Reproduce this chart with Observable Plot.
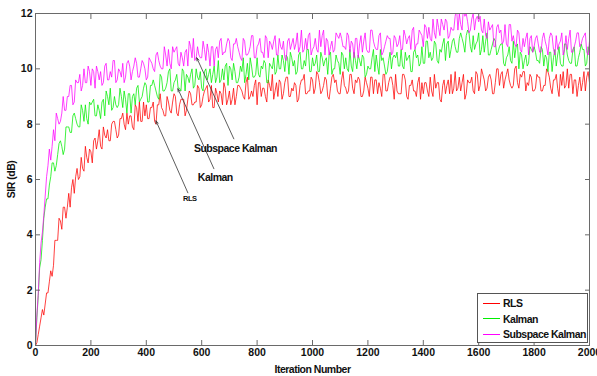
<!DOCTYPE html>
<html><head><meta charset="utf-8">
<script src="https://cdn.jsdelivr.net/npm/d3@7"></script>
<script src="https://cdn.jsdelivr.net/npm/@observablehq/plot@0.6"></script>
<style>
body{margin:0;background:#fff;}
#wrap{position:relative;width:597px;height:376px;font-family:"Liberation Sans",Arial,sans-serif;overflow:hidden;}
.legend{position:absolute;left:477px;top:293px;width:109px;height:48px;border:1px solid #555;background:#fff;font-weight:bold;font-size:10.5px;letter-spacing:-0.5px;color:#111;}
.row{position:absolute;left:5px;height:14px;line-height:14px;display:flex;align-items:center;white-space:nowrap;}
.row i{display:inline-block;width:17px;height:0;border-top:1px solid;margin-right:3px;}
g[aria-label="text"] text, g[aria-label="x-axis label"] text, g[aria-label="y-axis label"] text{letter-spacing:-0.5px;}
</style></head><body><div id="wrap"></div>
<script>
// samples at iterations 0,10,20,...,2000 (…Even) and 5,15,...,1995 (…Mid)
const rlsEven = [
0,0.4,1.0,1.1,1.9,2.3,2.5,3.8,3.8,4.5,
5.0,4.6,5.5,5.7,5.5,6.4,6.1,6.4,7.2,6.6,
7.0,7.4,7.1,7.8,7.1,7.6,7.8,7.4,8.1,7.8,
7.6,8.2,8.0,8.4,8.3,7.9,8.7,8.1,8.1,8.8,
8.7,8.2,8.6,8.1,8.7,9.1,8.5,8.3,8.8,8.4,
9.1,8.4,8.7,8.9,8.3,8.9,9.1,8.7,8.8,9.3,
8.7,9.2,9.4,8.9,8.6,9.3,8.8,9.1,9.5,8.7,
9.2,8.9,8.7,9.4,9.3,9.0,9.5,8.9,9.2,9.4,
8.7,9.5,9.3,9.0,9.6,9.2,8.9,9.5,9.6,8.9,
9.5,9.7,9.0,9.2,9.4,8.9,9.6,9.8,9.1,9.2,
9.6,9.3,9.8,9.1,9.4,9.6,8.9,9.7,9.5,9.2,
9.1,9.9,9.3,9.2,9.8,9.1,9.5,9.6,9.0,9.7,
9.3,9.7,9.1,9.6,9.5,9.0,9.8,9.2,9.7,9.4,
9.8,9.1,9.1,9.8,9.0,9.4,9.6,9.2,9.5,8.9,
9.1,9.5,9.0,9.2,9.8,9.5,8.9,9.4,9.1,9.6,
9.8,9.3,9.2,9.7,9.5,8.9,9.6,9.5,9.2,9.9,
9.2,10.0,9.6,9.3,9.8,9.1,9.5,10.0,9.8,9.3,
9.8,9.6,9.3,10.0,9.5,9.8,9.9,9.2,9.4,9.7,
9.2,9.8,9.7,9.2,9.4,9.9,9.3,9.6,9.8,9.0,
9.4,9.3,10.0,9.8,9.1,9.6,9.4,9.2,9.9,9.7,
9.5];
const rlsMid = [
0.1,0.7,1.3,1.5,1.9,2.7,2.9,3.8,4.6,4.2,
5.0,5.0,5.0,6.0,6.1,6.0,6.8,6.3,6.8,7.1,
6.6,7.5,7.4,7.2,7.9,7.5,7.4,8.0,8.1,7.5,
8.2,8.4,7.8,8.0,8.3,7.8,8.6,8.8,8.1,8.3,
8.2,8.6,8.8,8.0,8.7,8.6,8.3,9.0,8.5,8.8,
9.0,8.3,8.9,8.9,8.5,9.2,8.7,8.8,9.4,8.6,
9.0,9.3,8.8,9.4,8.6,9.1,9.2,8.7,9.3,8.9,
8.7,9.3,9.0,9.4,9.2,8.9,9.7,9.0,9.0,9.6,
9.5,9.0,9.3,8.8,9.4,9.8,9.2,9.0,9.5,9.1,
9.7,9.0,9.3,9.5,8.8,9.4,9.6,9.1,9.2,9.7,
9.1,9.9,9.5,9.2,9.7,9.0,9.3,9.8,9.6,9.1,
9.6,9.4,9.1,9.8,9.3,9.6,9.7,9.0,9.2,9.5,
9.0,9.7,9.6,9.1,9.3,9.8,9.2,9.5,9.7,8.9,
9.2,9.1,9.8,9.6,8.9,9.4,9.2,9.0,9.7,9.5,
9.5,9.2,9.7,9.0,9.3,9.5,8.8,9.6,9.4,9.1,
9.1,9.9,9.3,9.2,9.8,9.1,9.5,9.7,9.1,9.8,
9.4,9.8,9.2,9.7,9.6,9.1,10.0,9.4,9.9,9.6,
10.0,9.4,9.4,10.1,9.3,9.7,9.9,9.5,9.8,9.2,
9.3,9.7,9.2,9.4,10.0,9.7,9.1,9.6,9.3,9.8,
9.9,9.4,9.3,9.8,9.6,9.0,9.7,9.5,9.2,9.9];
const kalmanEven = [
0,1.8,3.1,4.6,5.3,5.8,6.6,6.3,6.9,7.4,
6.9,7.9,7.9,7.7,8.4,8.0,7.9,8.5,8.7,8.0,
8.7,8.9,8.3,8.5,8.8,8.3,9.0,9.3,8.6,8.7,
8.7,9.0,9.2,8.4,9.1,9.0,8.7,9.4,8.9,9.3,
9.4,8.8,9.4,9.4,9.0,9.8,9.2,9.3,9.9,9.2,
9.5,9.8,9.3,10.0,9.2,9.7,9.8,9.3,10.0,9.6,
9.3,9.9,9.6,10.0,9.8,9.5,10.3,9.6,9.6,10.2,
10.1,9.6,9.9,9.5,10.1,10.4,9.8,9.6,10.1,9.7,
10.4,9.7,10.0,10.2,9.5,10.1,10.4,9.9,10.0,10.5,
9.9,10.4,10.6,10.1,9.8,10.5,10.0,10.3,10.7,9.9,
10.4,10.2,9.9,10.6,10.1,10.4,10.5,9.8,10.0,10.3,
9.8,10.5,10.4,9.9,10.1,10.6,10.0,10.3,10.5,9.7,
10.1,10.0,10.7,10.5,9.8,10.3,10.1,9.9,10.6,10.4,
10.4,10.1,10.7,10.0,10.3,10.5,9.9,10.7,10.5,10.2,
10.2,11.0,10.4,10.3,11.0,10.3,10.7,10.9,10.3,11.0,
10.7,11.1,10.6,11.1,11.1,10.6,11.4,10.8,11.2,10.9,
11.3,10.7,10.6,11.3,10.5,10.9,11.0,10.6,10.9,10.2,
10.4,10.8,10.2,10.4,10.9,10.6,10.0,10.5,10.2,10.7,
10.8,10.3,10.2,10.7,10.5,9.9,10.6,10.4,10.1,10.8,
10.1,10.9,10.5,10.2,10.7,10.1,10.4,10.9,10.7,10.2,
10.5];
const kalmanMid = [
1.0,2.8,3.8,5.0,5.3,6.1,6.6,6.5,7.3,7.2,
7.1,7.9,7.7,8.3,8.2,7.9,8.7,8.1,8.2,8.8,
8.8,8.3,8.7,8.2,8.9,9.2,8.7,8.5,9.0,8.6,
9.3,8.6,8.9,9.1,8.4,9.1,9.3,8.8,9.0,9.5,
8.8,9.4,9.6,9.2,8.9,9.7,9.2,9.5,10.0,9.2,
9.6,9.3,9.2,9.9,9.8,9.5,10.0,9.4,9.7,9.9,
9.2,10.0,9.8,9.5,10.1,9.7,9.5,10.0,10.1,9.4,
10.0,10.2,9.5,9.7,9.9,9.5,10.2,10.4,9.7,9.8,
9.8,10.1,10.3,9.5,10.2,10.0,9.8,10.5,10.0,10.3,
10.5,9.8,10.4,10.3,9.9,10.6,10.0,10.1,10.7,9.9,
10.1,10.5,9.9,10.4,10.3,9.8,10.6,10.0,10.5,10.2,
10.6,10.0,10.0,10.7,9.9,10.3,10.5,10.1,10.4,9.8,
10.0,10.4,9.9,10.1,10.7,10.4,9.8,10.3,10.0,10.5,
10.6,10.1,10.1,10.6,10.4,9.9,10.6,10.4,10.1,10.8,
10.2,11.0,10.6,10.4,10.9,10.2,10.6,11.1,10.9,10.4,
11.0,10.8,10.6,11.3,10.9,11.2,11.3,10.6,10.7,11.0,
10.5,11.2,11.0,10.5,10.7,11.1,10.5,10.8,10.9,10.1,
10.5,10.3,11.0,10.8,10.0,10.5,10.3,10.1,10.8,10.6,
10.6,10.3,10.8,10.1,10.4,10.6,9.9,10.7,10.5,10.2,
10.1,10.9,10.3,10.2,10.8,10.1,10.6,10.7,10.1,10.8];
const subspaceEven = [
0,1.9,3.7,4.7,6.1,7.1,7.2,7.4,8.2,8.1,
9.0,8.5,9.0,9.4,8.8,9.5,9.8,9.4,9.5,10.1,
9.4,9.9,10.1,9.6,9.4,10.1,9.6,9.9,10.3,9.5,
10.0,9.7,9.5,10.2,10.1,9.9,10.4,9.7,10.0,10.2,
9.6,10.4,10.2,9.9,10.6,10.1,10.0,10.5,10.7,10.0,
10.6,10.8,10.1,10.4,10.6,10.1,10.8,11.1,10.4,10.5,
10.4,10.7,10.9,10.1,10.8,10.7,10.4,11.1,10.6,10.9,
11.0,10.3,10.9,10.8,10.4,11.1,10.5,10.6,11.2,10.4,
10.8,11.1,10.6,11.2,10.4,10.9,11.0,10.5,11.1,10.7,
10.4,11.0,10.7,11.1,10.9,10.6,11.4,10.7,10.7,11.3,
10.7,11.1,10.6,10.8,11.4,11.1,10.5,11.0,10.7,11.2,
11.3,10.8,10.7,11.2,11.0,10.4,11.1,10.9,10.6,11.3,
10.6,11.4,11.0,10.7,11.2,10.5,10.8,11.2,11.1,10.6,
11.1,10.9,10.7,11.4,10.9,11.2,11.4,10.7,10.9,11.3,
10.8,11.5,11.5,11.0,11.3,11.8,11.2,11.6,11.8,11.1,
11.5,11.4,12.2,12.0,11.4,11.9,11.7,11.4,12.0,11.8,
11.7,11.4,11.8,11.1,11.4,11.6,10.8,11.6,11.4,11.0,
10.9,11.6,11.0,10.9,11.4,10.7,11.1,11.1,10.5,11.2,
10.8,11.2,10.6,11.1,11.0,10.5,11.3,10.7,11.2,10.9,
11.3,10.7,10.7,11.4,10.6,11.0,11.3,10.9,11.2,10.6,
11.0];
const subspaceMid = [
1.1,3.0,4.1,5.4,6.5,6.7,7.8,8.4,8.0,8.4,
8.5,9.0,9.4,8.7,9.6,9.5,9.2,10.0,9.5,9.9,
10.0,9.3,9.9,9.9,9.5,10.2,9.6,9.7,10.3,9.6,
9.9,10.2,9.7,10.3,9.6,10.1,10.2,9.7,10.3,10.0,
9.7,10.3,10.0,10.5,10.3,10.0,10.8,10.1,10.2,10.8,
10.7,10.2,10.6,10.1,10.7,11.0,10.4,10.3,10.8,10.4,
11.0,10.3,10.6,10.8,10.1,10.8,11.0,10.5,10.6,11.1,
10.4,10.9,11.1,10.6,10.3,11.0,10.5,10.8,11.2,10.4,
10.9,10.6,10.4,11.1,11.0,10.7,11.2,10.5,10.8,11.0,
10.3,11.1,10.9,10.7,11.3,10.8,10.6,11.1,11.2,10.5,
10.8,10.7,11.4,11.2,10.5,11.0,10.8,10.6,11.3,11.1,
11.1,10.8,11.3,10.6,10.9,11.1,10.4,11.2,11.0,10.7,
10.6,11.4,10.8,10.7,11.3,10.6,11.0,11.1,10.5,11.2,
10.8,11.2,10.7,11.2,11.1,10.7,11.5,10.9,11.4,11.2,
11.6,11.1,11.1,11.8,11.1,11.5,11.8,11.4,11.7,11.2,
11.4,11.9,11.4,11.6,12.3,12.0,11.3,11.8,11.4,11.9,
11.9,11.3,11.2,11.7,11.5,10.8,11.5,11.3,10.9,11.6,
10.8,11.6,11.2,10.8,11.3,10.6,10.8,11.3,11.1,10.6,
11.1,10.9,10.6,11.3,10.8,11.1,11.2,10.5,10.7,11.0,
10.5,11.2,11.1,10.6,10.8,11.3,10.8,11.1,11.3,10.5];
const seriesNames = ["RLS", "Kalman", "Subspace Kalman"];
const seriesColors = ["#ff0000", "#00ee00", "#ff00ff"];
const xTicks = [0, 200, 400, 600, 800, 1000, 1200, 1400, 1600, 1800, 2000];
const yTicks = [0, 2, 4, 6, 8, 10, 12];
// annotation arrows: tail (near text) -> tip (on curve), in data units
const annLabels = ["Subspace Kalman", "Kalman", "RLS"];
const annTipX = [582, 514, 435];
const annTipY = [10.4, 9.28, 8.12];
const annTailX = [716, 644, 550];
const annTailY = [7.47, 6.39, 5.52];
const annTextX = [572, 586, 557];
const annTextY = [7.11, 6.06, 5.31];

function merge(even, mid) {
  const out = [];
  for (let i = 0; i < even.length; i++) {
    out.push({iter: i * 10, sir: even[i]});
    if (i < mid.length) out.push({iter: i * 10 + 5, sir: mid[i]});
  }
  return out;
}
const lineData = [merge(rlsEven, rlsMid), merge(kalmanEven, kalmanMid), merge(subspaceEven, subspaceMid)];
const ann = annLabels.map((t, i) => ({t, tipX: annTipX[i], tipY: annTipY[i], tailX: annTailX[i], tailY: annTailY[i], tx: annTextX[i], ty: annTextY[i], small: t === "RLS"}));

const axisColor = "#6a6a6a";
const fmt = d => String(d);
const chart = Plot.plot({
  width: 597, height: 376,
  marginLeft: 35, marginRight: 8, marginTop: 13, marginBottom: 31,
  style: {fontFamily: "'Liberation Sans', Arial, sans-serif", fontSize: "10.5px", fontWeight: "bold", background: "#fff", color: "#111"},
  x: {domain: [0, 2000]},
  y: {domain: [0, 12]},
  marks: [
    ...lineData.map((d, i) => Plot.line(d, {x: "iter", y: "sir", stroke: seriesColors[i], strokeWidth: 0.75, clip: true})),
    Plot.frame({stroke: axisColor, strokeWidth: 1}),
    Plot.axisX(xTicks, {anchor: "bottom", tickSize: 5, dy: -5, text: null, stroke: axisColor, label: null}),
    Plot.axisX(xTicks, {anchor: "top", tickSize: 5, dy: 5, text: null, stroke: axisColor, label: null}),
    Plot.axisY(yTicks, {anchor: "left", tickSize: 5, dx: 5, text: null, stroke: axisColor, label: null}),
    Plot.axisY(yTicks, {anchor: "right", tickSize: 5, dx: -5, text: null, stroke: axisColor, label: null}),
    Plot.axisX(xTicks, {anchor: "bottom", tickSize: 0, tickPadding: 3, tickFormat: fmt, label: "Iteration Number", labelAnchor: "center", labelArrow: "none", labelOffset: 27, fill: "#111"}),
    Plot.axisY(yTicks, {anchor: "left", tickSize: 0, tickPadding: 3, tickFormat: fmt, label: "SIR (dB)", labelAnchor: "center", labelArrow: "none", labelOffset: 28, fill: "#111"}),
    Plot.arrow(ann, {x1: "tailX", y1: "tailY", x2: "tipX", y2: "tipY", stroke: "#333", strokeWidth: 0.8, headLength: 6, headAngle: 40}),
    Plot.text(ann.filter(d => !d.small), {x: "tx", y: "ty", text: "t", textAnchor: "start", fontSize: 10.5, fontWeight: "bold", fill: "#111"}),
    Plot.text(ann.filter(d => d.small), {x: "tx", y: "ty", text: "t", textAnchor: "middle", fontSize: 7.5, fontWeight: "bold", fill: "#111"})
  ]
});
const wrap = document.getElementById("wrap");
wrap.appendChild(chart);
const legend = document.createElement("div");
legend.className = "legend";
seriesNames.forEach((n, i) => {
  const r = document.createElement("div");
  r.className = "row";
  r.style.top = (2 + i * 15.5) + "px";
  const sw = document.createElement("i");
  sw.style.borderColor = seriesColors[i];
  r.appendChild(sw);
  r.appendChild(document.createTextNode(n));
  legend.appendChild(r);
});
wrap.appendChild(legend);
</script></body></html>
